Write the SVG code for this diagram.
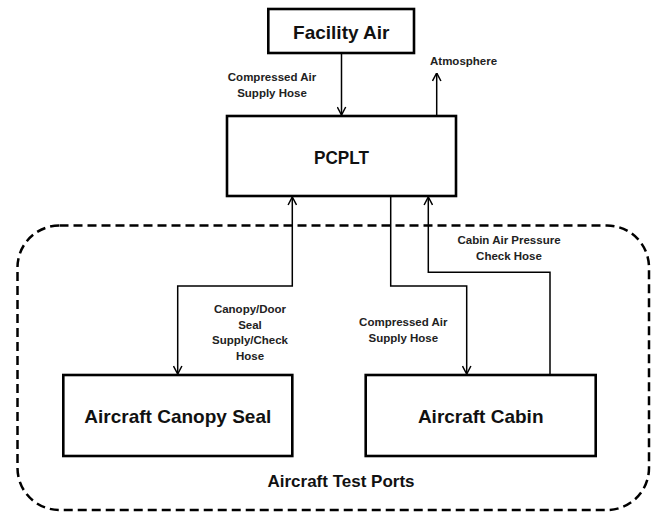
<svg xmlns="http://www.w3.org/2000/svg" width="662" height="514" viewBox="0 0 662 514">
<style>
.box{fill:#fff;stroke:#000;stroke-width:2.6}
.big{font-family:"Liberation Sans",Arial,sans-serif;font-weight:bold;font-size:19px;fill:#111;text-anchor:middle}
.lbl{font-family:"Liberation Sans",Arial,sans-serif;font-weight:bold;font-size:11.5px;fill:#222;text-anchor:middle}
.con{fill:none;stroke:#000;stroke-width:1.5}
</style>
<defs>
<marker id="arr" viewBox="0 0 10 10" refX="9.5" refY="5" markerWidth="10" markerHeight="10" markerUnits="userSpaceOnUse" orient="auto-start-reverse">
<path d="M1.5,0.8 L9.5,5 L1.5,9.2" fill="none" stroke="#000" stroke-width="1.5"/>
</marker>
</defs>
<rect width="662" height="514" fill="#fff"/>
<g id="test-ports">
<rect x="17.5" y="225.5" width="631.5" height="284.5" rx="42" ry="42" fill="none" stroke="#000" stroke-width="2.5" stroke-dasharray="9 5"/>
<text class="big" x="341" y="487" style="font-size:17px">Aircraft Test Ports</text>
</g>
<g id="connectors">
<line class="con" x1="341.5" y1="54" x2="341.5" y2="115" marker-end="url(#arr)"/>
<line class="con" x1="436.7" y1="115" x2="436.7" y2="73" marker-end="url(#arr)"/>
<path class="con" d="M292.3,197 V286 H177.7 V374" marker-start="url(#arr)" marker-end="url(#arr)"/>
<path class="con" d="M390.7,197 V286 H466.7 V374" marker-end="url(#arr)"/>
<path class="con" d="M550,374 V272.3 H428.3 V197" marker-end="url(#arr)"/>
<text class="lbl" x="272" y="81">Compressed Air</text>
<text class="lbl" x="272" y="97">Supply Hose</text>
<text class="lbl" x="430" y="65" style="text-anchor:start">Atmosphere</text>
<text class="lbl" x="250" y="313">Canopy/Door</text>
<text class="lbl" x="250" y="328.7">Seal</text>
<text class="lbl" x="250" y="344.3">Supply/Check</text>
<text class="lbl" x="250" y="360">Hose</text>
<text class="lbl" x="403.3" y="326">Compressed Air</text>
<text class="lbl" x="403.3" y="341.7">Supply Hose</text>
<text class="lbl" x="509" y="244.3">Cabin Air Pressure</text>
<text class="lbl" x="509" y="260">Check Hose</text>
</g>
<g id="facility-air">
<rect class="box" x="268.3" y="9" width="145.7" height="44"/>
<text class="big" x="341.3" y="38.5">Facility Air</text>
</g>
<g id="pcplt">
<rect class="box" x="227" y="116" width="229" height="80"/>
<text class="big" x="341.5" y="164" textLength="55" lengthAdjust="spacingAndGlyphs">PCPLT</text>
</g>
<g id="canopy-seal">
<rect class="box" x="63.3" y="375" width="229" height="81"/>
<text class="big" x="177.8" y="423">Aircraft Canopy Seal</text>
</g>
<g id="cabin">
<rect class="box" x="365.7" y="375" width="230" height="81"/>
<text class="big" x="480.7" y="423">Aircraft Cabin</text>
</g>
</svg>
